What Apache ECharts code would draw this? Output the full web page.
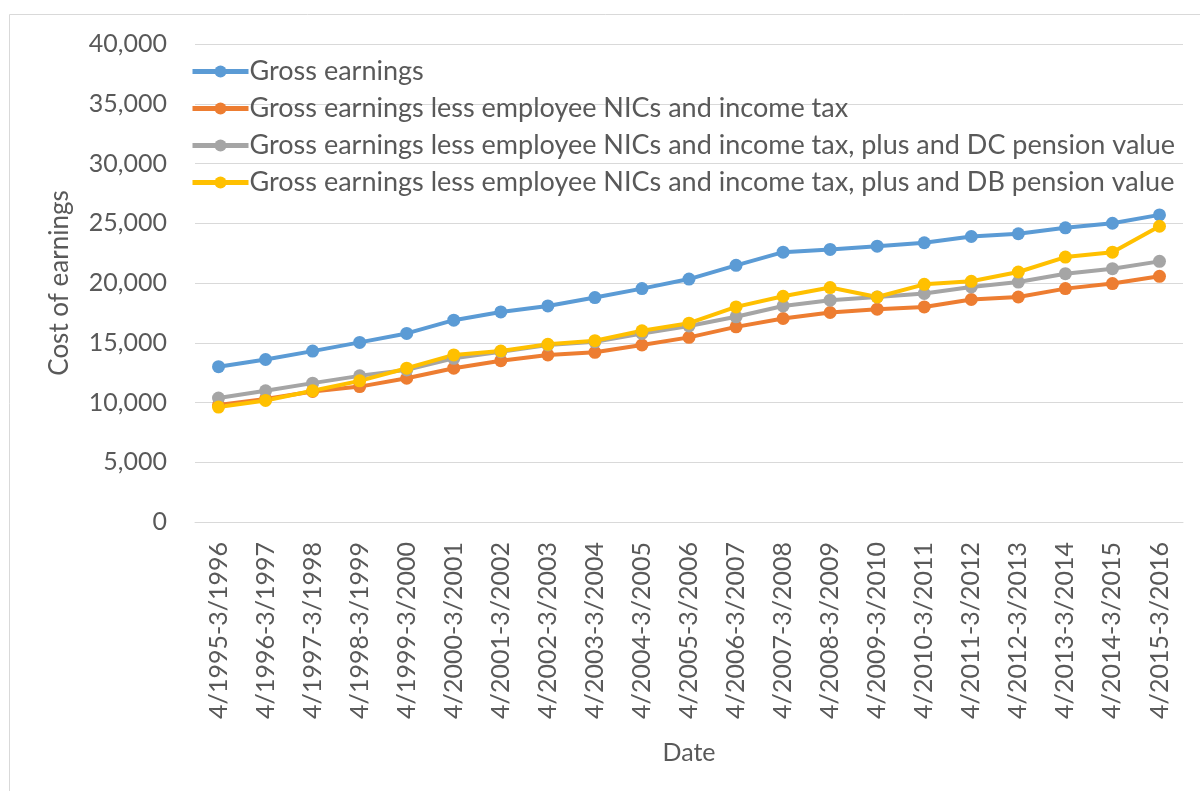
<!DOCTYPE html>
<html>
<head>
<meta charset="utf-8">
<script src="https://cdn.jsdelivr.net/npm/echarts@6/dist/echarts.min.js"></script>
<style>
    html, body {margin: 0; padding: 0; background: #fff;}
    #main {width: 1200px; height: 791px;}
</style>
</head>
<body>
<div id="main"></div>
<script>
var periods = [
    "4/1995-3/1996", "4/1996-3/1997", "4/1997-3/1998", "4/1998-3/1999", "4/1999-3/2000",
    "4/2000-3/2001", "4/2001-3/2002", "4/2002-3/2003", "4/2003-3/2004", "4/2004-3/2005",
    "4/2005-3/2006", "4/2006-3/2007", "4/2007-3/2008", "4/2008-3/2009", "4/2009-3/2010",
    "4/2010-3/2011", "4/2011-3/2012", "4/2012-3/2013", "4/2013-3/2014", "4/2014-3/2015",
    "4/2015-3/2016"
];
var gross = [13000, 13600, 14300, 15030, 15780, 16890, 17580, 18080, 18780, 19530,
    20330, 21480, 22580, 22810, 23080, 23370, 23890, 24120, 24620, 25000, 25700];
var netPay = [9800, 10300, 10920, 11330, 12030, 12870, 13500, 13980, 14200, 14810,
    15450, 16330, 17030, 17530, 17810, 18000, 18620, 18830, 19530, 19950, 20560];
var netPlusDC = [10370, 10980, 11620, 12230, 12730, 13700, 14250, 14810, 15080, 15780,
    16400, 17170, 18080, 18560, 18830, 19120, 19670, 20080, 20780, 21200, 21810];
var netPlusDB = [9620, 10170, 10980, 11810, 12870, 13980, 14310, 14870, 15170, 16000,
    16640, 18000, 18890, 19620, 18830, 19890, 20140, 20920, 22170, 22580, 24750];
var yTicks = {min: 0, max: 40000, step: 5000};

var names = [
    "Gross earnings",
    "Gross earnings less employee NICs and income tax",
    "Gross earnings less employee NICs and income tax, plus and DC pension value",
    "Gross earnings less employee NICs and income tax, plus and DB pension value"
];
var colors = ["#5B9BD5", "#ED7D31", "#A5A5A5", "#FFC000"];
var font = "Lato, 'Open Sans', sans-serif";

function line(name, data, color) {
    return {name: name, type: "line", data: data, symbol: "circle", symbolSize: 13,
        itemStyle: {color: color}, lineStyle: {color: color, width: 4}}
}

var chart = echarts.init(document.getElementById("main"));
chart.setOption({
    animation: false,
    textStyle: {fontFamily: font},
    color: colors,
    grid: {left: 195, right: 17, top: 44, bottom: 269, containLabel: false},
    graphic: [{type: "rect", shape: {x: 9.5, y: 14.5, width: 1200, height: 800},
        style: {fill: "none", stroke: "#D9D9D9", lineWidth: 1}, silent: true}],
    legend: {orient: "vertical", left: 185, top: 53, itemWidth: 56, itemHeight: 15, itemGap: 10,
        lineStyle: {width: 5}, data: names,
        textStyle: {fontSize: 27, color: "#595959", fontFamily: font, padding: [0, 0, 0, -4]}},
    xAxis: {type: "category", data: periods, boundaryGap: true,
        name: "Date", nameLocation: "middle", nameGap: 218,
        nameTextStyle: {fontSize: 25, color: "#595959", fontFamily: font},
        axisLine: {lineStyle: {color: "#D9D9D9", width: 1}}, axisTick: {show: false},
        axisLabel: {rotate: 90, fontSize: 25, color: "#595959", margin: 20, interval: 0, fontFamily: font}},
    yAxis: {type: "value", min: yTicks.min, max: yTicks.max, interval: yTicks.step,
        name: "Cost of earnings", nameLocation: "middle", nameGap: 122,
        nameTextStyle: {fontSize: 26, color: "#595959", fontFamily: font},
        axisLine: {show: false}, axisTick: {show: false},
        axisLabel: {fontSize: 25, color: "#595959", margin: 28, fontFamily: font,
            formatter: function(v) {return v.toLocaleString("en-US")}},
        splitLine: {lineStyle: {color: "#D9D9D9", width: 1}}},
    series: [
        line(names[0], gross, colors[0]),
        line(names[1], netPay, colors[1]),
        line(names[2], netPlusDC, colors[2]),
        line(names[3], netPlusDB, colors[3])
    ]
});
</script>
</body>
</html>
